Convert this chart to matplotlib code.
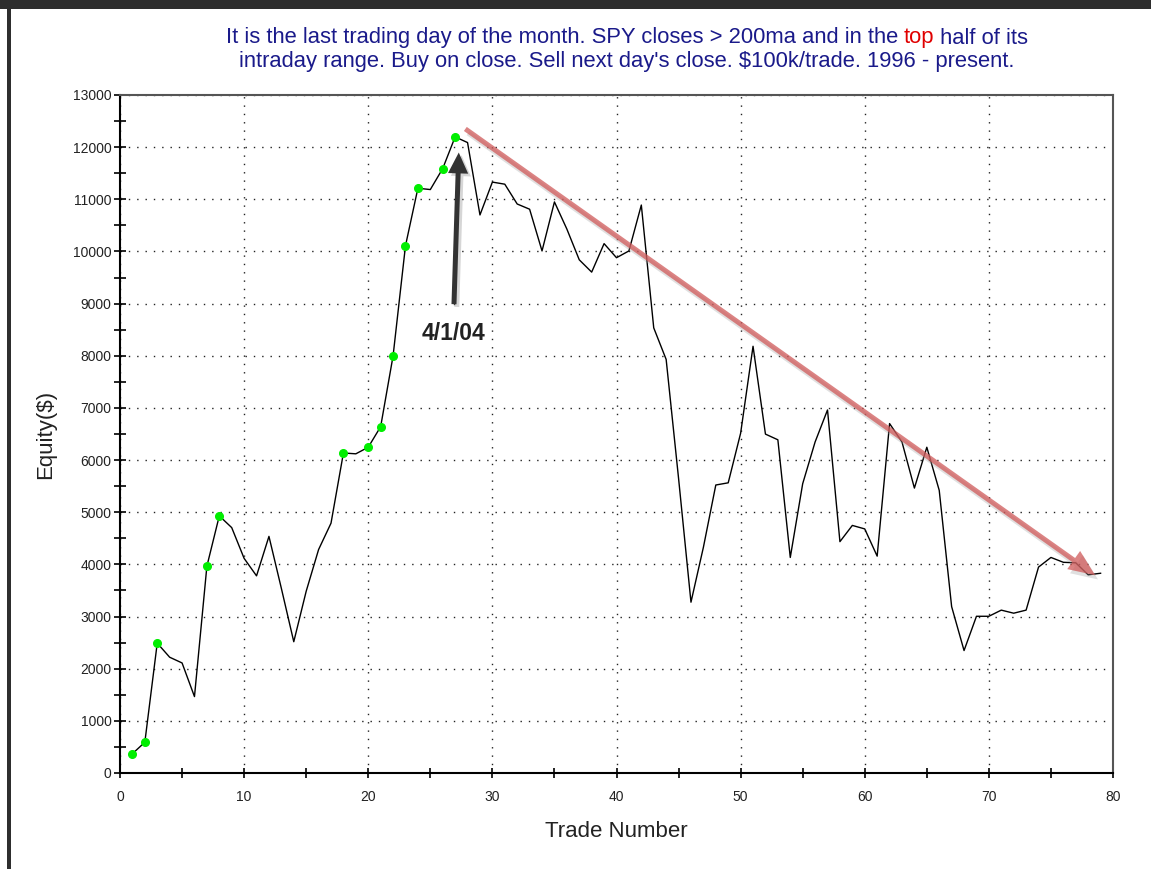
import matplotlib
matplotlib.use('Agg')
import matplotlib.pyplot as plt
from matplotlib.patches import FancyArrowPatch, Rectangle, ArrowStyle
import matplotlib.patheffects as pe
from matplotlib.ticker import MultipleLocator

plt.rcParams['font.family'] = ['Liberation Sans', 'DejaVu Sans']

# ---- data ----
trade_number = list(range(1, 80))
equity = [370, 589, 2490, 2220, 2110, 1465, 3965, 4930, 4705, 4115,
          3780, 4537, 3540, 2517, 3485, 4285, 4790, 6136, 6120, 6246,
          6641, 7997, 10110, 11212, 11187, 11590, 12197, 12088, 10700, 11330,
          11290, 10910, 10810, 10010, 10950, 10430, 9840, 9604, 10150, 9880,
          10010, 10890, 8535, 7930, 5650, 3275, 4327, 5522, 5564, 6515,
          8182, 6498, 6389, 4133, 5547, 6347, 6961, 4436, 4747, 4680,
          4158, 6700, 6347, 5463, 6246, 5420, 3190, 2348, 3005, 3005,
          3123, 3064, 3123, 3948, 4133, 4040, 4030, 3800, 3830]
new_high_trades = [1, 2, 3, 7, 8, 18, 20, 21, 22, 23, 24, 26, 27]
x_ticks = [0, 10, 20, 30, 40, 50, 60, 70, 80]
y_ticks = list(range(0, 13001, 1000))
title_line1 = ["It is the last trading day of the month. SPY closes > 200ma and in the ", "top", " half of its"]
title_line2 = "intraday range. Buy on close. Sell next day's close. $100k/trade. 1996 - present."
annot_label = "4/1/04"

W, H = 1151, 869
fig = plt.figure(figsize=(W / 100, H / 100), dpi=100)
fig.patch.set_facecolor('white')

# image border
fig.patches.append(Rectangle((0, 1 - 9 / H), 1, 9 / H, transform=fig.transFigure,
                             facecolor='#2e2e2e', edgecolor='none', zorder=0))
fig.patches.append(Rectangle((7 / W, 0), 4 / W, 1, transform=fig.transFigure,
                             facecolor='#2e2e2e', edgecolor='none', zorder=0))

ax = fig.add_axes([120 / W, 1 - 773 / H, (1113 - 120) / W, (773 - 95) / H])
ax.set_xlim(0, 80)
ax.set_ylim(0, 13000)

ax.plot(trade_number, equity, color='black', lw=1.0, zorder=3)
hx = [t for t in new_high_trades]
hy = [equity[trade_number.index(t)] for t in new_high_trades]
ax.plot(hx, hy, linestyle='none', marker='o', markersize=5.5,
        markerfacecolor='#00ee00', markeredgecolor='#00ee00', zorder=4)

ax.set_xticks(x_ticks)
ax.xaxis.set_minor_locator(MultipleLocator(5))
ax.set_yticks(y_ticks)
ax.yaxis.set_minor_locator(MultipleLocator(500))
ax.tick_params(axis='both', which='both', direction='inout', colors='black',
               labelcolor='#222222', labelsize=10, width=1.2)
ax.tick_params(axis='y', which='major', length=8, pad=2)
ax.tick_params(axis='y', which='minor', length=8)
ax.tick_params(axis='x', which='major', length=7, pad=9)
ax.tick_params(axis='x', which='minor', length=7)

ax.grid(True, which='major', linestyle=(0, (1, 5)), color='#222222', lw=1.0)
ax.set_axisbelow(True)

for s in ['left', 'bottom']:
    ax.spines[s].set_color('black')
    ax.spines[s].set_linewidth(1.5)
for s in ['top', 'right']:
    ax.spines[s].set_color('#555555')
    ax.spines[s].set_linewidth(1.5)

ax.set_xlabel('Trade Number', fontsize=16, color='#222222', labelpad=12)
ax.set_ylabel('Equity($)', fontsize=16, color='#222222', labelpad=12)

# annotation arrow (black)
shadow = [pe.SimplePatchShadow(offset=(2, -2), shadow_rgbFace='#999999', alpha=0.4), pe.Normal()]
black_arrow = FancyArrowPatch((26.9, 8936), (27.3, 11950),
                              arrowstyle=ArrowStyle.Simple(head_length=15, head_width=14.5, tail_width=3.6),
                              mutation_scale=1, color='#333333', lw=0, zorder=5)
black_arrow.set_path_effects(shadow)
ax.add_patch(black_arrow)
ax.text(26.9, 8420, annot_label, ha='center', va='center', fontsize=16.5,
        fontweight='bold', color='#222222', zorder=6)

# red trend arrow
red_arrow = FancyArrowPatch((27.64, 12380), (78.75, 3760),
                            arrowstyle=ArrowStyle.Simple(head_length=19, head_width=16, tail_width=3.6),
                            mutation_scale=1, color='#d05a5a', alpha=0.75, lw=0, zorder=5)
red_arrow.set_path_effects([pe.SimplePatchShadow(offset=(2, -3), shadow_rgbFace='#999999', alpha=0.3), pe.Normal()])
ax.add_patch(red_arrow)

# title with red word
navy = '#1a1a8a'
fig.canvas.draw()
renderer = fig.canvas.get_renderer()
tsize = 15.8
pieces = []
colors = [navy, '#e00000', navy]
for txt, c in zip(title_line1, colors):
    t = fig.text(0, 1 - 38 / H, txt, fontsize=tsize, color=c, ha='left', va='center')
    pieces.append(t)
widths = [p.get_window_extent(renderer).width for p in pieces]
total = sum(widths)
x0 = 627 - total / 2
for p, w in zip(pieces, widths):
    p.set_x(x0 / W)
    x0 += w
fig.text(627 / W, 1 - 62 / H, title_line2, fontsize=tsize, color=navy, ha='center', va='center')

fig.savefig('out.png', dpi=100)
